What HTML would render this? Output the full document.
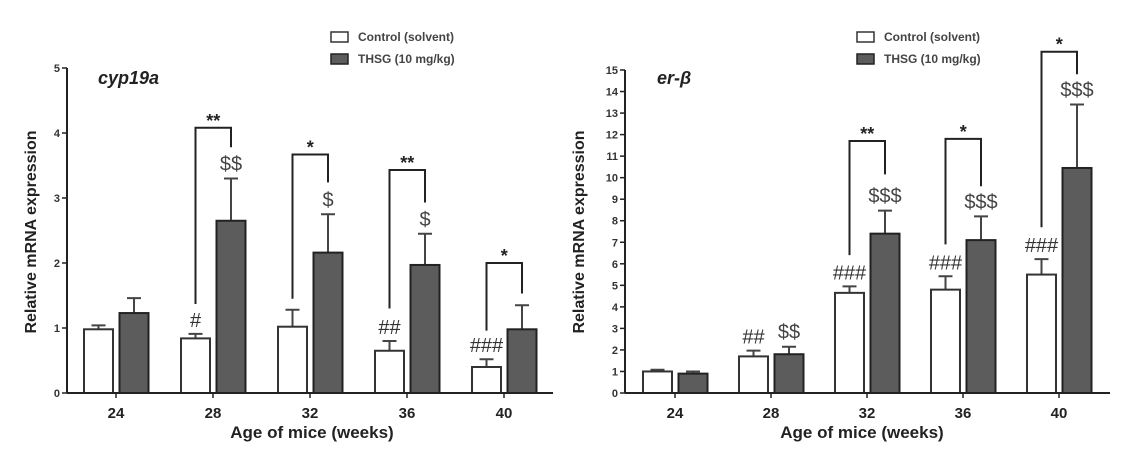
<!DOCTYPE html>
<html><head><meta charset="utf-8"><style>
html,body{margin:0;padding:0;background:#fff;}
svg{display:block;font-family:"Liberation Sans",Arial,sans-serif;}
</style></head><body>
<svg id="chart" width="1130" height="453" viewBox="0 0 1130 453" xmlns="http://www.w3.org/2000/svg"></svg>
<script>
const categories = ["24","28","32","36","40"];
// Panel A: cyp19a
const cypControl = [0.98,0.84,1.02,0.65,0.40];
const cypControlErr = [1.04,0.91,1.28,0.80,0.52];
const cypThsg = [1.23,2.65,2.16,1.97,0.98];
const cypThsgErr = [1.46,3.30,2.75,2.45,1.35];
const cypHash = ["","#","","##","###"];
const cypDollar = ["","$$","$","$",""];
const cypStars = ["","**","*","**","*"];
const cypBracketTop = [0,4.08,3.67,3.43,2.0];
const cypBracketLeft = [0,1.37,1.45,1.3,0.96];
const cypBracketRight = [0,3.78,3.24,2.93,1.53];
const cypTicks = ["0","1","2","3","4","5"];
// Panel B: er-beta
const erControl = [1.0,1.7,4.65,4.8,5.5];
const erControlErr = [1.08,1.97,4.95,5.42,6.22];
const erThsg = [0.9,1.8,7.4,7.1,10.45];
const erThsgErr = [1.0,2.15,8.47,8.2,13.4];
const erHash = ["","##","###","###","###"];
const erDollar = ["","$$","$$$","$$$","$$$"];
const erStars = ["","","**","*","*"];
const erBracketTop = [0,0,11.7,11.8,15.85];
const erBracketLeft = [0,0,6.4,6.9,7.7];
const erBracketRight = [0,0,10.15,9.6,14.8];
const erTicks = ["0","1","2","3","4","5","6","7","8","9","10","11","12","13","14","15"];

const NS="http://www.w3.org/2000/svg";
const svg=document.getElementById('chart');
function mk(tag,attrs,parent,text){const e=document.createElementNS(NS,tag);for(const k in attrs)e.setAttribute(k,attrs[k]);if(text!==undefined)e.textContent=text;(parent||svg).appendChild(e);return e;}

function panel(p){
  const g=mk('g',{});
  
  
  const max=p.ticks.length-1;
  const y=v=>p.y0-(v/max)*(p.y0-p.yTop);
  const x=i=>p.cat0+i*p.step;
  const ya=mk('line',{x1:p.x0,y1:p.yTop,x2:p.x0,y2:p.y0,stroke:'#222','stroke-width':2},g);
  
  p.ticks.forEach((t,i)=>{
    const v=+t;
    const tk=mk('line',{x1:p.x0-5,y1:y(v),x2:p.x0,y2:y(v),stroke:'#222','stroke-width':1.5},g);
    
    const tl=mk('text',{x:p.x0-7,y:y(v)+4,'text-anchor':'end','font-size':p.tickFont,'font-weight':'bold',fill:'#333'},g,t);
    
  });
  const bw=29;
  for(let i=0;i<categories.length;i++){
    const cx=x(i);
    const cC=cx-17.5, cT=cx+18;
    [[cC,p.ctrl[i],p.ctrlErr[i]],[cT,p.thsg[i],p.thsgErr[i]]].forEach(([c,v,e])=>{
      const el=mk('path',{d:`M${c},${y(v)} V${y(e)} M${c-7},${y(e)} H${c+7}`,stroke:'#444','stroke-width':2,fill:'none'},g);
      
    });
    const b1=mk('rect',{x:cC-bw/2,y:y(p.ctrl[i]),width:bw,height:p.y0-y(p.ctrl[i]),fill:'#fff',stroke:'#333','stroke-width':2},g);
    
    const b2=mk('rect',{x:cT-bw/2,y:y(p.thsg[i]),width:bw,height:p.y0-y(p.thsg[i]),fill:'#5c5c5c',stroke:'#222','stroke-width':2},g);
    
    if(p.hash[i]){const t=mk('text',{x:cC,y:y(p.ctrlErr[i])-7,'text-anchor':'middle','font-size':20,fill:'#333'},g,p.hash[i]);
      }
    if(p.dollar[i]){const t=mk('text',{x:cT,y:y(p.thsgErr[i])-8,'text-anchor':'middle','font-size':20,fill:'#444'},g,p.dollar[i]);
      }
    if(p.stars[i]){
      const bt=y(p.bTop[i]);
      const br=mk('path',{d:`M${cC},${y(p.bLeft[i])} V${bt} H${cT} V${y(p.bRight[i])}`,stroke:'#222','stroke-width':2,fill:'none'},g);
      
      const st=mk('text',{x:(cC+cT)/2,y:bt-1,'text-anchor':'middle','font-size':18,'font-weight':'bold',fill:'#222'},g,p.stars[i]);
      
    }
    const xl=mk('text',{x:cx,y:p.y0+25,'text-anchor':'middle','font-size':15,'font-weight':'bold',fill:'#222'},g,categories[i]);
    
    const xt=mk('line',{x1:cx,y1:p.y0,x2:cx,y2:p.y0+5,stroke:'#222','stroke-width':1.5},g);
    
  }
  const xa=mk('line',{x1:p.x0,y1:p.y0,x2:p.xEnd,y2:p.y0,stroke:'#222','stroke-width':2},g);
  
  const xtit=mk('text',{x:p.xTitX,y:p.y0+45,'text-anchor':'middle','font-size':17,'font-weight':'bold',fill:'#222'},g,'Age of mice (weeks)');
  
  const ytit=mk('text',{x:0,y:0,transform:`translate(${p.yLabX},232) rotate(-90)`,'text-anchor':'middle','font-size':16,'font-weight':'bold',fill:'#222'},g,'Relative mRNA expression');
  
  const tt=mk('text',{x:p.titleX,y:84,'font-size':18,'font-weight':'bold','font-style':'italic',fill:'#222'},g,p.title);
  
  const l1=mk('rect',{x:p.legX,y:32,width:17,height:10,fill:'#fff',stroke:'#333','stroke-width':1.5},g);
  
  const l1t=mk('text',{x:p.legX+27,y:41,'font-size':12,'font-weight':'bold',fill:'#444'},g,'Control (solvent)');
  
  const l2=mk('rect',{x:p.legX,y:54,width:17,height:10,fill:'#5c5c5c',stroke:'#222','stroke-width':1.5},g);
  
  const l2t=mk('text',{x:p.legX+27,y:63,'font-size':12,'font-weight':'bold',fill:'#444'},g,'THSG (10 mg/kg)');
  
}
panel({name:'cyp19a-panel',title:'cyp19a',titleX:98,x0:67,xEnd:553,y0:393,yTop:68,cat0:116,step:97,ticks:cypTicks,tickFont:11,
  ctrl:cypControl,ctrlErr:cypControlErr,thsg:cypThsg,thsgErr:cypThsgErr,hash:cypHash,dollar:cypDollar,stars:cypStars,
  bTop:cypBracketTop,bLeft:cypBracketLeft,bRight:cypBracketRight,yLabX:36,legX:331,xTitX:312});
panel({name:'er-beta-panel',title:'er-β',titleX:657,x0:625,xEnd:1110,y0:393,yTop:70,cat0:675,step:96,ticks:erTicks,tickFont:11,
  ctrl:erControl,ctrlErr:erControlErr,thsg:erThsg,thsgErr:erThsgErr,hash:erHash,dollar:erDollar,stars:erStars,
  bTop:erBracketTop,bLeft:erBracketLeft,bRight:erBracketRight,yLabX:584,legX:857,xTitX:862});
</script>
</body></html>
